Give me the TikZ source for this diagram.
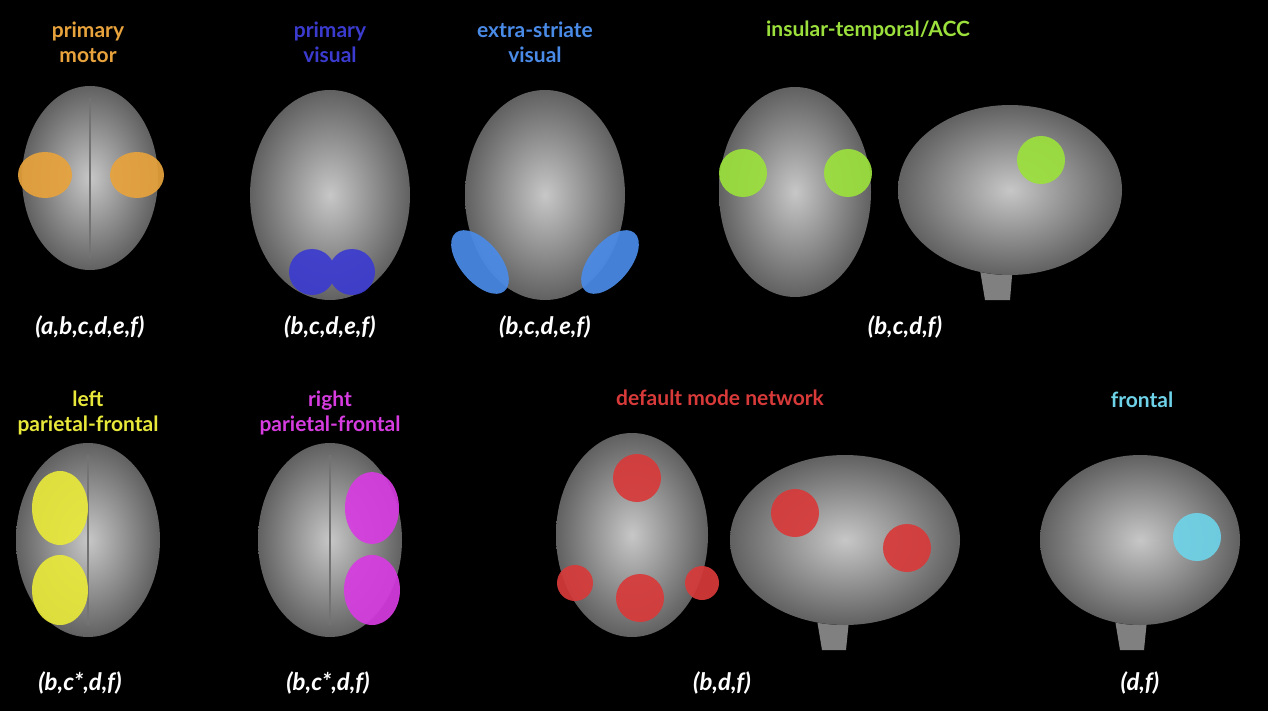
\documentclass[tikz,border=0pt]{standalone}
\usepackage{fontspec}
\setmainfont{Lato}
\begin{document}
\begin{tikzpicture}[x=1pt,y=-1pt,
  brain/.style={inner color=black!22, outer color=black!62},
  stem/.style={fill=black!50},
  blob/.style={opacity=0.92},
  ttl/.style={align=center, font=\fontsize{21}{25}\selectfont\bfseries},
  lbl/.style={text=white, font=\fontsize{24}{28}\selectfont\bfseries\itshape}]
\fill[black] (0,0) rectangle (1268,711);
\useasboundingbox (0,0) rectangle (1268,711);
% brainstems
\fill[stem] (975,240) -- (1015,240) -- (1010,300) -- (985,300) -- cycle;
\fill[stem] (812,590) -- (852,590) -- (846,650) -- (822,650) -- cycle;
\fill[stem] (1110,590) -- (1150,590) -- (1144,650) -- (1120,650) -- cycle;
% brains
\fill[brain] (90,178) ellipse (68 and 92);
\fill[brain] (330,195) ellipse (80 and 105);
\fill[brain] (545,195) ellipse (80 and 105);
\fill[brain] (795,192) ellipse (76 and 105);
\fill[brain] (1010,190) ellipse (112 and 85);
\fill[brain] (88,540) ellipse (72 and 97);
\fill[brain] (330,540) ellipse (72 and 97);
\fill[brain] (632,535) ellipse (76 and 102);
\fill[brain] (845,540) ellipse (115 and 85);
\fill[brain] (1140,540) ellipse (100 and 85);
% midlines
\foreach \x/\y/\h in {90/178/80,88/540/85,330/540/85}
  \draw[black!55, line width=2] (\x,\y-\h) -- (\x,\y+\h);
% blobs
\fill[blob, fill={rgb,255:red,232;green,163;blue,60}] (45,175) ellipse (27 and 23) (137,175) ellipse (27 and 23);
\fill[blob, fill={rgb,255:red,59;green,59;blue,208}] (312,272) circle (23) (352,272) circle (23);
\fill[blob, fill={rgb,255:red,74;green,139;blue,232}] (480,262) [rotate around={40:(480,262)}] ellipse (20 and 38);
\fill[blob, fill={rgb,255:red,74;green,139;blue,232}] (610,262) [rotate around={-40:(610,262)}] ellipse (20 and 38);
\fill[blob, fill={rgb,255:red,155;green,224;blue,60}] (743,173) circle (24) (848,173) circle (24) (1041,160) circle (24);
\fill[blob, fill={rgb,255:red,232;green,232;blue,58}] (60,508) ellipse (28 and 37) (60,590) ellipse (28 and 35);
\fill[blob, fill={rgb,255:red,214;green,60;blue,224}] (372,508) ellipse (27 and 36) (372,590) ellipse (28 and 35);
\fill[blob, fill={rgb,255:red,216;green,58;blue,58}] (637,478) circle (24) (575,583) circle (18) (640,598) circle (24) (702,583) circle (17) (795,513) circle (24) (907,548) circle (24);
\fill[blob, fill={rgb,255:red,110;green,211;blue,232}] (1197,537) circle (24);
% titles
\node[ttl, text={rgb,255:red,232;green,163;blue,60}] (t1) at (88,42) {primary\\motor};
\node[ttl, text={rgb,255:red,59;green,59;blue,208}] (t2) at (330,42) {primary\\visual};
\node[ttl, text={rgb,255:red,74;green,139;blue,232}] (t3) at (535,42) {extra-striate\\visual};
\node[ttl, text={rgb,255:red,155;green,224;blue,60}] (t4) at (868,30) {insular-temporal/ACC};
\node[ttl, text={rgb,255:red,232;green,232;blue,58}] (t5) at (88,413) {left\\parietal-frontal};
\node[ttl, text={rgb,255:red,214;green,60;blue,224}] (t6) at (330,413) {right\\parietal-frontal};
\node[ttl, text={rgb,255:red,216;green,58;blue,58}] (t7) at (720,398) {default mode network};
\node[ttl, text={rgb,255:red,110;green,211;blue,232}] (t8) at (1142,400) {frontal};
% labels
\node[lbl] (l1) at (90,327) {(a,b,c,d,e,f)};
\node[lbl] (l2) at (330,327) {(b,c,d,e,f)};
\node[lbl] (l3) at (545,327) {(b,c,d,e,f)};
\node[lbl] (l4) at (905,327) {(b,c,d,f)};
\node[lbl] (l5) at (80,683) {(b,c*,d,f)};
\node[lbl] (l6) at (328,683) {(b,c*,d,f)};
\node[lbl] (l7) at (722,683) {(b,d,f)};
\node[lbl] (l8) at (1140,683) {(d,f)};
\end{tikzpicture}
\end{document}
